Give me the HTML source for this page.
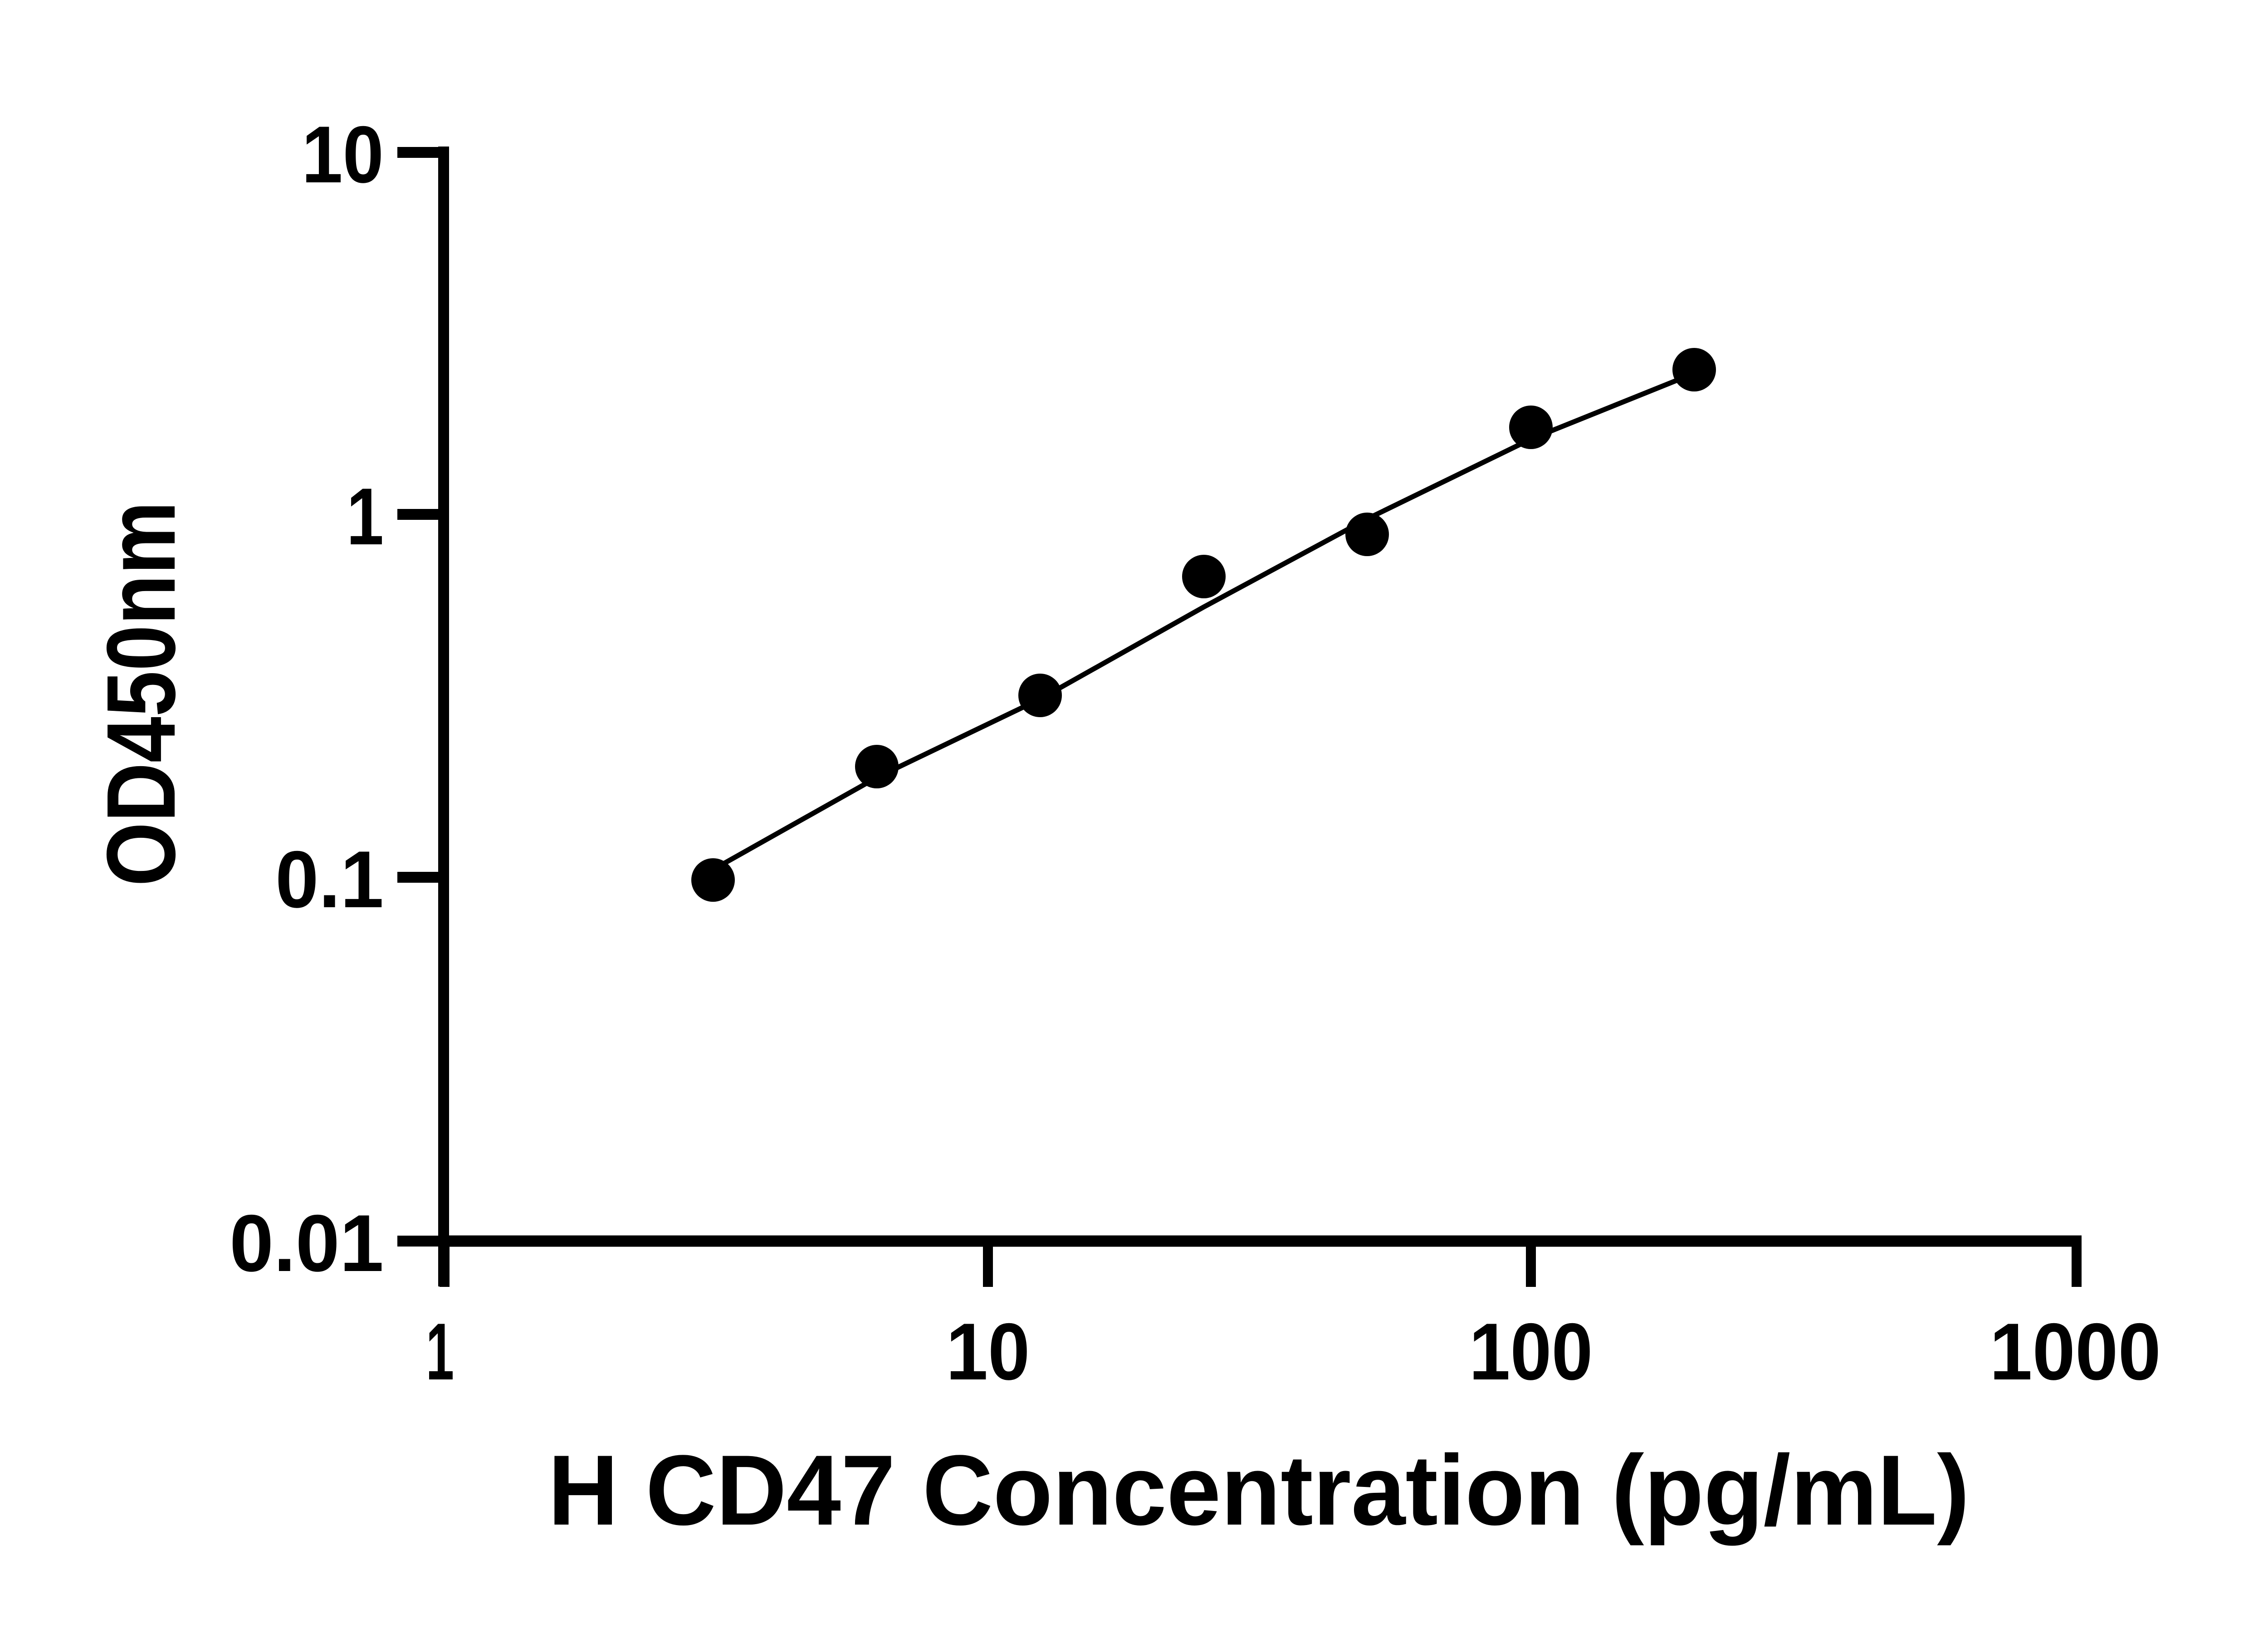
<!DOCTYPE html>
<html><head><meta charset="utf-8"><style>html,body{margin:0;padding:0;background:#fff}svg{display:block}</style></head>
<body>
<svg width="5130" height="3600" viewBox="0 0 5130 3600" xmlns="http://www.w3.org/2000/svg">
<rect width="5130" height="3600" fill="#fff"/>
<g stroke="#000" fill="none">
<line x1="978" y1="323" x2="978" y2="2836" stroke-width="24"/>
<line x1="966" y1="2736" x2="4589" y2="2736" stroke-width="25"/>
<line x1="876" y1="336" x2="978" y2="336" stroke-width="24"/>
<line x1="876" y1="1134" x2="978" y2="1134" stroke-width="24"/>
<line x1="876" y1="1934" x2="978" y2="1934" stroke-width="24"/>
<line x1="876" y1="2736" x2="978" y2="2736" stroke-width="24"/>
<line x1="980" y1="2736" x2="980" y2="2837" stroke-width="22"/>
<line x1="2178" y1="2736" x2="2178" y2="2837" stroke-width="22"/>
<line x1="3375" y1="2736" x2="3375" y2="2837" stroke-width="22"/>
<line x1="4578" y1="2736" x2="4578" y2="2837" stroke-width="22"/>
<path d="M1572 1917 L1933 1714 L2293 1541 L2654 1338 L3014 1144 L3375 968 L3735 823" stroke-width="11" stroke-linejoin="round"/>
</g>
<g fill="#000">
<circle cx="1572" cy="1940" r="48"/>
<circle cx="1933" cy="1690" r="48"/>
<circle cx="2293" cy="1533" r="48"/>
<circle cx="2654" cy="1271" r="48"/>
<circle cx="3014" cy="1178" r="48"/>
<circle cx="3375" cy="942" r="48"/>
<circle cx="3735" cy="815" r="48"/>
</g>
<g font-family="Liberation Sans, Arial, sans-serif" font-weight="bold" fill="#000" font-size="178">
<text x="846" y="402" text-anchor="end" textLength="181" lengthAdjust="spacingAndGlyphs">10</text>
<text x="846" y="1200" text-anchor="end" textLength="82" lengthAdjust="spacingAndGlyphs">1</text>
<text x="846" y="2000" text-anchor="end" textLength="239" lengthAdjust="spacingAndGlyphs">0.1</text>
<text x="846" y="2802" text-anchor="end" textLength="340" lengthAdjust="spacingAndGlyphs">0.01</text>
<text x="970" y="3041" text-anchor="middle" textLength="62" lengthAdjust="spacingAndGlyphs">1</text>
<text x="2178" y="3041" text-anchor="middle" textLength="185" lengthAdjust="spacingAndGlyphs">10</text>
<text x="3375" y="3041" text-anchor="middle" textLength="273" lengthAdjust="spacingAndGlyphs">100</text>
<text x="4575" y="3041" text-anchor="middle" textLength="378" lengthAdjust="spacingAndGlyphs">1000</text>
<text x="1208" y="3361" font-size="220" textLength="3134" lengthAdjust="spacingAndGlyphs">H CD47 Concentration (pg/mL)</text>
<text transform="translate(385,1954) rotate(-90)" x="0" y="0" font-size="215" textLength="849" lengthAdjust="spacingAndGlyphs">OD450nm</text>
</g>
</svg>
</body></html>
